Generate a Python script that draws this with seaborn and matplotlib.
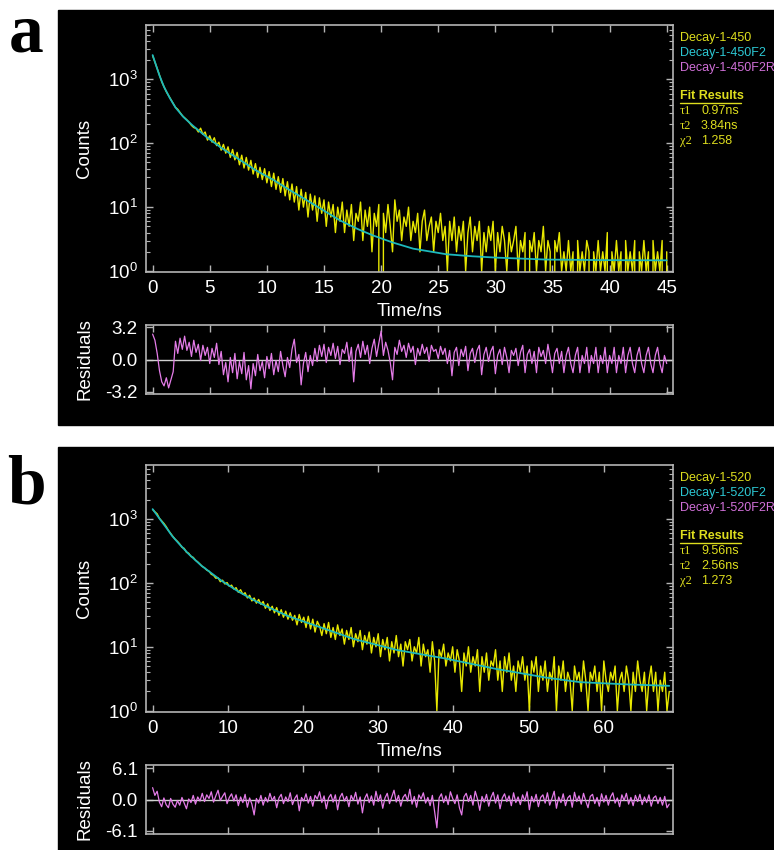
import numpy as np
import matplotlib
matplotlib.use('Agg')
import matplotlib.pyplot as plt
import seaborn as sns
from matplotlib.patches import Rectangle
from matplotlib.lines import Line2D
from matplotlib.ticker import LogLocator, NullFormatter, FixedLocator

sns.set_style('ticks')
plt.rcParams['font.family'] = ['Liberation Sans', 'DejaVu Sans']
plt.rcParams['mathtext.default'] = 'regular'

# ---- panel a: 450 nm decay (0.2 ns channels) ----
step_a = 0.2
counts_a = [2350, 1870, 1480, 1170, 915, 765, 640, 555, 478, 420, 365,
            340, 302, 270, 250, 232, 212, 190, 176, 171,
            150, 172, 138, 150, 112, 131, 104, 122, 92, 104,
            78, 96, 70, 88, 60, 80, 55, 72, 46, 65,
            41, 60, 38, 54, 33, 48, 29, 42, 27, 40,
            24, 36, 21, 34, 19, 30, 17, 28, 15, 25,
            13, 23, 12, 21, 9, 19, 10, 17, 7, 16,
            9, 15, 6, 14, 8, 13, 5, 12, 7, 11,
            4, 10, 6, 12, 4, 9, 5, 11, 3, 8,
            6, 12, 3, 9, 5, 10, 2, 8, 5, 11,
            0, 8, 4, 11, 5, 2, 13, 6, 9, 3,
            7, 5, 10, 3, 6, 4, 8, 2, 6, 9, 3, 5, 7, 2, 6, 4, 8, 3, 5, 1,
            6, 3, 7, 2, 5, 3, 6, 1, 4, 7, 2, 5, 3, 6, 1, 4, 2, 5, 3, 6,
            1, 4, 2, 5, 3, 1, 4, 2, 3, 5, 1, 3, 2, 4, 0, 3, 2, 4, 1, 3,
            2, 5, 1, 3, 2, 0, 3, 2, 4, 1,
            2, 1, 3, 1, 2, 0, 3, 1, 2, 1, 3, 2, 0, 2, 1, 3, 1, 2, 1, 4,
            0, 2, 1, 3, 1, 2, 0, 3, 1, 2, 1, 3, 0, 2, 1, 3, 1, 2, 0, 3,
            1, 2, 1, 3, 0, 2]
fit_a_t = [0, 0.3, 0.6, 1.0, 1.5, 2.0, 2.7, 3.5, 4.7, 6.0, 7.7, 9.0, 10.6, 12.0,
           13.5, 15.0, 16.4, 18.0, 19.3, 21.0, 22.8, 25.7, 28.0, 30.1, 34.5, 40.0, 45.0]
fit_a = [2400, 1660, 1150, 760, 513, 363, 257, 190, 126, 85, 54, 38, 26.5, 18.5,
         12.8, 8.8, 6.2, 4.5, 3.6, 2.8, 2.24, 1.83, 1.7, 1.62, 1.51, 1.48, 1.47]
resid_a = [2.5, 1.9, 0.6, -1.1, -2.2, -2.6, -1.8, -2.8, -2.0, -1.2,
           1.8, 0.6, 2.1, 1.0, 2.3, 0.9, 1.7, 0.3, 1.9, 0.7,
           1.5, -0.1, 1.4, 0.4, 1.2, -0.4, 1.1, 0.2, 1.6, -0.5,
           0.8, -1.5, -0.3, -2.2, 0.2, -1.3, 0.6, -1.9, -0.2, -1.4,
           0.7, -2.0, -0.6, -2.9, -0.4, -1.6, 0.5, -1.1, -0.2, -1.8,
           0.3, -0.9, 0.6, -1.5, -0.1, -1.2, 0.8, -0.6, -1.7, 0.2,
           -0.8, 1.0, 2.0, -0.3, 0.5, -2.5, -0.4, 0.7, -1.2, 0.4,
           -0.6, 1.1, -0.2, 1.4, 0.3, 1.5, -0.3, 1.2, 0.4, 1.6,
           0.1, 1.3, -0.5, 1.0, 0.6, 1.7, -0.2, 1.2, -2.2, 0.8,
           1.5, 0.2, 1.8, 0.5, 1.4, -0.4, 1.1, 2.0, 0.3, 1.6,
           2.8, 0.4, 1.7, 0.9, -0.3, -2.0, 1.2, 0.5, 1.9, 0.8,
           1.4, 0.2, 1.6, 0.7, 1.3, -0.5, 1.1, 0.4, 1.5, 0.6,
           1.2, -0.2, 1.4, 0.8, 1.0, 0.1, 1.3, 0.5, 1.1, -0.4,
           0.9, -1.6, 0.7, 1.2, -0.6, 1.0, 0.3, 1.3, -1.1, 0.6,
           1.1, -0.3, 0.9, 1.4, -1.5, 0.5, 1.2, -0.2, 0.8, 1.3,
           -1.4, 0.4, 1.0, -0.5, 1.2, 0.2, -1.3, 0.9, 0.4, 1.1,
           -0.6, 0.7, 1.4, -1.3, 0.5, 1.0, -0.4, 0.8, -1.3, 1.2,
           0.3, 0.9, -0.4, 1.5, 0.2, -1.3, 0.6, 1.1, -0.4, 0.8,
           -1.3, 0.4, 1.2, -0.4, -1.3, 0.4, 1.2, -1.3, 0.4, -0.4,
           1.2, -1.3, 0.4, -0.4, 1.2, -1.3, 0.4, -0.4, 1.2, -1.3,
           0.4, -0.4, 1.2, -1.3, 0.4, -0.4, 1.2, -1.3, 0.4, 1.2,
           -0.4, -1.3, 0.4, 1.2, -0.4, -1.3, 0.4, 1.2, -0.4, -1.3,
           0.4, 1.2, -0.4, -1.3, 0.4, -0.4]

# ---- panel b: 520 nm decay (0.3 ns channels) ----
step_b = 0.3
counts_b = [1400, 1290, 1200, 1020, 930, 850, 760, 660, 590, 530,
            480, 445, 405, 360, 345, 300, 290, 258, 250, 225,
            212, 196, 180, 172, 158, 152, 136, 131, 118, 120,
            104, 110, 96, 101, 88, 92, 80, 84, 71, 78,
            66, 70, 58, 64, 52, 58, 48, 55, 46, 51,
            40, 47, 37, 43, 34, 41, 31, 38, 29, 36,
            27, 34, 26, 31, 22, 32, 24, 29, 20, 30,
            19, 27, 17, 25, 21, 15, 23, 16, 24, 14,
            20, 13, 22, 15, 19, 11, 18, 13, 20, 10,
            16, 12, 18, 9, 15, 11, 17, 8, 14, 10,
            16, 7, 13, 9, 14, 6, 12, 8, 15, 7,
            11, 5, 12, 9, 13, 6, 10, 8, 14, 5,
            11, 7, 9, 4, 12, 6, 1, 9, 7, 11,
            5, 8, 6, 10, 4, 9, 6, 2, 8, 5,
            10, 4, 7, 5, 9, 2, 7, 4, 8, 3,
            6, 5, 9, 3, 6, 2, 7, 4, 8, 3,
            5, 2, 6, 4, 7, 3, 5, 1, 6, 4,
            7, 2, 5, 3, 6, 2, 4, 3, 7, 1,
            5, 3, 6, 2, 4, 3, 1, 5, 3, 4,
            2, 6, 3, 1, 4, 3, 5, 2, 4, 1,
            6, 3, 2, 4, 3, 5, 1, 3, 4, 2,
            5, 3, 1, 4, 2, 6, 3, 2, 4, 1,
            3, 5, 2, 4, 1, 3, 2, 4, 1, 2]
fit_b_t = [0, 1.0, 2.0, 2.6, 3.5, 4.8, 6.5, 9.2, 11.5, 13.6, 16.0, 18.0, 22.4,
           26.8, 32.5, 39.1, 45.7, 52.3, 56.8, 63.4, 68.7]
fit_b = [1420, 980, 680, 540, 410, 282, 185, 107, 72, 52.5, 38.5, 30.2, 20,
         13.2, 8.9, 6.5, 4.5, 3.3, 2.8, 2.57, 2.45]
resid_b = [2.3, 0.8, 1.6, -0.5, -1.4, 0.3, -1.0, -1.6, 0.2, -0.9,
           -1.5, -0.2, -1.1, 0.4, -0.7, -1.8, 0.1, -0.6, 0.8, -0.9,
           0.5, -0.3, 1.2, -0.4, 0.9, 0.2, 1.5, -0.5, 0.7, 1.8,
           -0.2, 0.6, 1.3, -0.8, 0.4, 1.1, -0.3, 0.9, -1.2, 0.5,
           -0.6, 1.0, -1.5, 0.3, -0.9, -3.0, 0.2, -0.7, 0.8, -1.1,
           0.4, -0.5, 1.2, -0.2, 0.6, -1.6, 0.3, 1.0, -0.8, 0.5,
           -0.4, 1.3, -1.0, 0.2, 0.9, -2.2, 0.4, -0.3, 1.1, -0.7,
           0.6, -1.3, 0.8, 0.1, 1.5, -0.6, 0.7, -1.8, 0.3, 1.0,
           -0.5, 0.9, -2.0, 0.4, 1.2, -0.3, 0.6, -1.4, 0.8, -0.2,
           1.4, -0.9, 0.5, -2.6, 0.2, 1.1, -0.6, 0.7, -1.1, 1.6,
           -0.4, 0.9, -1.7, 0.3, 1.2, -0.8, 0.5, 1.8, -0.5, 0.8,
           -1.3, 0.4, 1.0, -0.3, 2.0, -0.9, 0.6, -1.5, 0.9, 0.1,
           1.3, -0.7, 0.4, -1.2, 0.8, -2.4, -5.5, 0.3, 1.1, -0.6,
           0.7, -1.0, 1.5, 0.2, -0.8, 0.9, -1.6, -3.0, 0.5, 1.2,
           -0.4, 0.8, -1.1, 1.6, 0.1, -2.1, 0.6, -0.5, 1.0, -1.3,
           0.4, 1.4, -0.7, 0.9, -1.8, 0.3, 1.1, -0.4, 0.7, -1.2,
           1.3, -0.6, 0.5, -1.0, 0.9, -0.3, 1.5, -2.0, 0.6, -0.5,
           1.0, -1.4, 0.4, 0.9, -0.7, 1.3, -1.1, 0.2, 1.6, -1.7,
           0.5, -0.6, 1.1, -1.2, 0.3, 0.8, -1.5, 1.4, -0.4, 0.7,
           -0.9, 1.2, -0.3, -1.6, 0.6, 1.0, -0.8, 0.4, -1.3, 1.1,
           -0.5, 0.8, -1.1, 0.5, 1.3, -0.7, 0.3, -1.4, 0.9, -0.2,
           1.2, -0.9, 0.4, -1.2, 0.8, -0.4, 1.0, -1.0, 0.5, -0.6,
           0.9, -1.3, 0.3, 0.7, -0.8, 0.4, -1.1, 0.6, -1.6, -0.9]

legend_a = ['Decay-1-450', 'Decay-1-450F2', 'Decay-1-450F2R']
legend_b = ['Decay-1-520', 'Decay-1-520F2', 'Decay-1-520F2R']
fit_names = ['\u03c41', '\u03c42', '\u03c72']
fit_vals_a = ['0.97ns', '3.84ns', '1.258']
fit_vals_b = ['9.56ns', '2.56ns', '1.273']

YEL = '#e8e800'
CYAN = '#1cb8bc'
MAG = '#e47ce8'
FRAME = '#b4b4b4'
LEG_COLS = ['#dede1e', '#2cc8d4', '#d070d8']
TXT_Y = '#dede1e'
FS = 13.5

W, H = 774, 850
fig = plt.figure(figsize=(W / 100, H / 100), dpi=100)
fig.patch.set_facecolor('white')


def px_axes(l, t, r, b):
    return fig.add_axes([l / W, 1 - b / H, (r - l) / W, (b - t) / H])


def style(ax):
    ax.set_facecolor('black')
    ax.grid(False)
    for s in ax.spines.values():
        s.set_visible(True)
        s.set_color(FRAME)
        s.set_linewidth(1.2)
    ax.tick_params(which='both', direction='in', top=True, right=True,
                   color=FRAME, labelcolor='white', labelsize=FS)
    ax.tick_params(which='major', length=5, width=1, pad=6)
    ax.tick_params(which='minor', length=3, width=0.8)


def panel(top, bg_top, label_y, counts, step, fit_t, fit_v, resid, xmax_tick, xstep,
          xlim, ylim, rlim, rlabel, names, vals, label):
    t = np.arange(len(counts)) * step
    tr = np.arange(len(resid)) * step
    # black panel background
    fig.add_artist(Rectangle((58 / W, 1 - (bg_top + 415) / H), (W - 58) / W, 415 / H,
                             transform=fig.transFigure, color='black', zorder=-5))
    ax = px_axes(146, top + 15, 673, top + 262)
    sns.lineplot(x=t, y=counts, ax=ax, color=YEL, lw=1.0, estimator=None, sort=False)
    sns.lineplot(x=fit_t, y=fit_v, ax=ax, color=CYAN, lw=1.3, estimator=None, sort=False)
    ax.set_yscale('log')
    ax.set_ylim(*ylim)
    ax.set_xlim(*xlim)
    ax.set_xticks(np.arange(0, xmax_tick + 1, xstep))
    ax.yaxis.set_major_locator(LogLocator(base=10))
    ax.yaxis.set_minor_locator(LogLocator(base=10, subs=np.arange(2, 10)))
    ax.yaxis.set_minor_formatter(NullFormatter())
    style(ax)
    ax.set_xlabel('Time/ns', color='white', fontsize=FS)
    ax.xaxis.set_label_coords(0.5, -0.125)
    ax.set_ylabel('Counts', color='white', fontsize=FS)
    ax.yaxis.set_label_coords(-0.1, 0.5)

    rax = px_axes(146, top + 315, 673, top + 384)
    rax.axhline(0, color='#d0d0d0', lw=1)
    sns.lineplot(x=tr, y=resid, ax=rax, color=MAG, lw=0.9, estimator=None, sort=False)
    rax.set_xlim(*xlim)
    rax.set_ylim(-rlim, rlim)
    rax.set_xticks(np.arange(0, xmax_tick + 1, xstep))
    rax.yaxis.set_major_locator(FixedLocator([-rlabel, 0, rlabel]))
    rax.set_yticklabels(['-%.1f' % rlabel, '0.0', '%.1f' % rlabel])
    style(rax)
    rax.tick_params(labelbottom=False)
    rax.set_ylabel('Residuals', color='white', fontsize=FS)
    rax.yaxis.set_label_coords(-0.1, 0.5)

    # legend / fit results at right
    for i, (nm, c) in enumerate(zip(names, LEG_COLS)):
        fig.text(680 / W, 1 - (top + 28 + 15 * i) / H, nm, color=c, fontsize=9,
                 va='center', ha='left')
    fig.text(680 / W, 1 - (top + 86) / H, 'Fit Results', color=TXT_Y, fontsize=9,
             va='center', ha='left', fontweight='bold')
    fig.add_artist(Line2D([680 / W, 741 / W], [1 - (top + 93) / H] * 2, color=TXT_Y,
                          lw=1, transform=fig.transFigure))
    for i, (nm, v) in enumerate(zip(fit_names, vals)):
        yy = 1 - (top + 101 + 15 * i) / H
        fig.text(680 / W, yy, nm, color=TXT_Y, fontsize=9, va='center', ha='left',
                 family=['Liberation Serif', 'DejaVu Serif'])
        fig.text(701 / W, yy, v, color=TXT_Y, fontsize=9, va='center', ha='left')

    fig.text(26 / W, 1 - label_y / H, label, fontsize=50, fontweight='bold',
             family=['Liberation Serif', 'DejaVu Serif'], ha='center', va='baseline',
             color='black')


panel(10, 10, 52, counts_a, step_a, fit_a_t, fit_a, resid_a, 45, 5, (-0.58, 45.55),
      (0.965, 7100), 3.4, 3.2, legend_a, fit_vals_a, 'a')
panel(450, 447, 504, counts_b, step_b, fit_b_t, fit_b, resid_b, 60, 10, (-0.88, 69.2),
      (0.955, 6960), 6.7, 6.1, legend_b, fit_vals_b, 'b')

fig.savefig('out.png', dpi=100, facecolor='white')
